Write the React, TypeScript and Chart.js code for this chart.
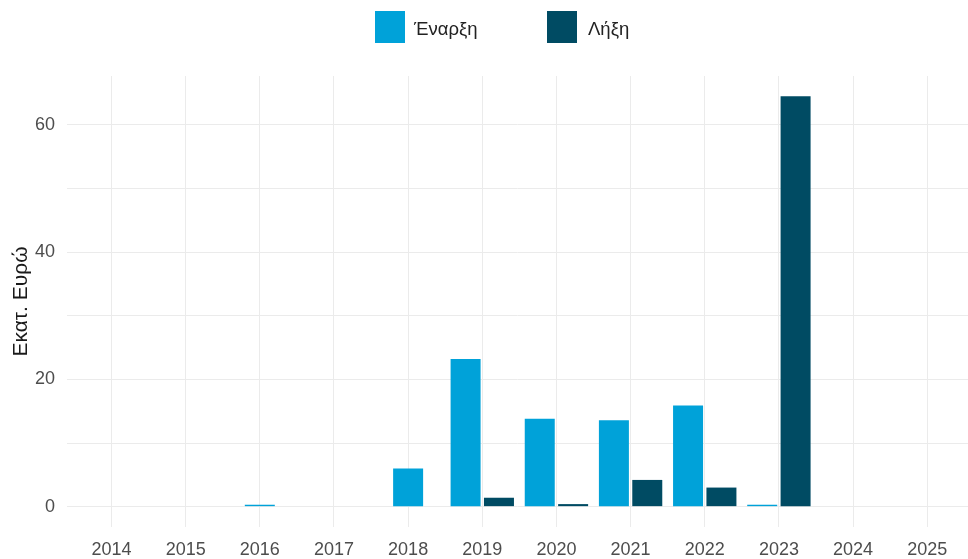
import React, { useEffect, useRef } from "react";
import { Chart, registerables } from "chart.js";

Chart.register(...registerables);

const years = [2014, 2015, 2016, 2017, 2018, 2019, 2020, 2021, 2022, 2023, 2024, 2025];
const startValues: (number | null)[] = [null, null, 0.3, null, 6.0, 23.2, 13.8, 13.6, 15.9, 0.3, null, null];
const endValues: (number | null)[] = [null, null, null, null, null, 1.4, 0.4, 4.2, 3.0, 64.5, null, null];
const seriesNames = ["Έναρξη", "Λήξη"];
const seriesColors = ["#00A2D9", "#004B63"];
const yTickLabels = [0, 20, 40, 60];

const FONT = "'Liberation Sans', Arial, sans-serif";

const legendPlugin = {
  id: "customLegend",
  afterDraw(chart: any) {
    const ctx = chart.ctx;
    const cx = chart.width / 2;
    const boxX = [cx - 109, cx + 63];
    const textGap = [39, 41];
    ctx.save();
    ctx.font = `18.5px ${FONT}`;
    ctx.textBaseline = "middle";
    ctx.textAlign = "left";
    seriesNames.forEach((name, i) => {
      ctx.fillStyle = seriesColors[i];
      ctx.fillRect(boxX[i], 11, 30, 32);
      ctx.fillStyle = "#222222";
      ctx.fillText(name, boxX[i] + textGap[i], 30);
    });
    ctx.restore();
  },
};

export default function App() {
  const canvasRef = useRef<HTMLCanvasElement | null>(null);

  useEffect(() => {
    document.body.style.margin = "0";
    const canvas = canvasRef.current;
    if (!canvas) return;
    const toPoints = (vals: (number | null)[]) => years.map((y, i) => ({ x: y, y: vals[i] }));
    const chart = new Chart(canvas, {
      type: "bar",
      data: {
        datasets: [
          {
            label: seriesNames[0],
            data: toPoints(startValues) as any,
            backgroundColor: seriesColors[0],
            skipNull: true,
            categoryPercentage: 0.9,
            barPercentage: 0.9,
            maxBarThickness: 30,
          },
          {
            label: seriesNames[1],
            data: toPoints(endValues) as any,
            backgroundColor: seriesColors[1],
            skipNull: true,
            categoryPercentage: 0.9,
            barPercentage: 0.9,
            maxBarThickness: 30,
          },
        ],
      },
      options: {
        animation: false,
        responsive: false,
        devicePixelRatio: 1,
        layout: { padding: { top: 76, left: 0, right: 0, bottom: 0 } },
        plugins: {
          legend: { display: false },
          tooltip: { enabled: false },
        },
        scales: {
          x: {
            type: "linear",
            min: 2013.4,
            max: 2025.55,
            offset: false,
            grid: { offset: false, color: "#EBEBEB", lineWidth: 1, drawTicks: false },
            border: { display: false },
            afterBuildTicks: (scale: any) => {
              scale.ticks = years.map((v) => ({ value: v }));
            },
            ticks: {
              autoSkip: false,
              maxRotation: 0,
              padding: 12,
              color: "#4D4D4D",
              font: { family: FONT, size: 18 },
              callback: (v: any) => String(v),
            },
            afterFit: (scale: any) => {
              scale.height = 32;
            },
          },
          y: {
            type: "linear",
            min: -3.2,
            max: 67.7,
            grid: { color: "#EBEBEB", lineWidth: 1, drawTicks: false },
            border: { display: false },
            ticks: {
              stepSize: 10,
              includeBounds: false,
              padding: 12,
              color: "#4D4D4D",
              font: { family: FONT, size: 18 },
              callback: (v: any) => (yTickLabels.includes(v) ? String(v) : ""),
            },
            title: {
              display: true,
              text: "Εκατ. Ευρώ",
              color: "#1A1A1A",
              font: { family: FONT, size: 21 },
              padding: { top: 9, bottom: 0 },
            },
            afterFit: (scale: any) => {
              scale.width = 67;
            },
          },
        },
      } as any,
      plugins: [legendPlugin],
    });
    return () => chart.destroy();
  }, []);

  return (
    <div style={{ width: 968, height: 559, background: "#ffffff" }}>
      <canvas ref={canvasRef} width={968} height={559} style={{ display: "block" }} />
    </div>
  );
}
